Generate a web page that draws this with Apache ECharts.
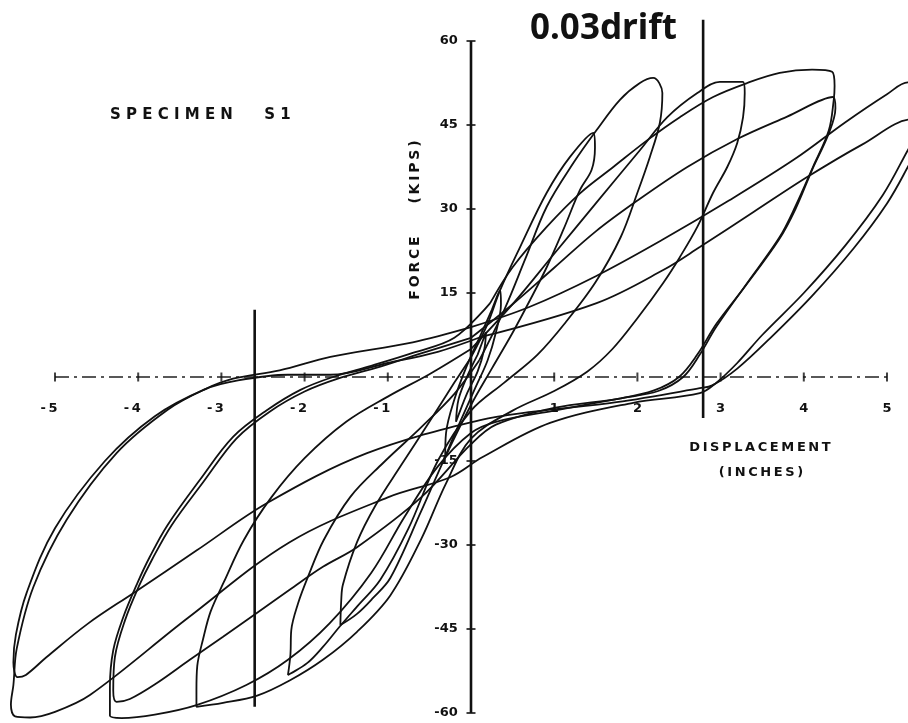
<!DOCTYPE html>
<html><head><meta charset="utf-8">
<script src="https://cdn.jsdelivr.net/npm/echarts@6/dist/echarts.min.js"></script>
<style>html,body{margin:0;padding:0;background:#fff}#c{width:908px;height:723px}</style>
</head><body><div id="c"></div>
<script>
// axis ranges and tick values
const xRange = [-5, 5];
const yRange = [-60, 60];
const xTicks = [-5,-4,-3,-2,-1,1,2,3,4,5];
const yTicks = [-60,-45,-30,-15,15,30,45,60];
// drift marker lines (displacement, force range)
const driftLeft = [[-2.6,12],[-2.6,-58.9]];
const driftRight = [[2.79,63.8],[2.79,-7.3]];
// hysteresis loops: [displacement (in), force (kips)]
const loopS1 = [[-0.31,-14.3],[-0.3,-10],[-0.2,-4],[-0.05,2],[0.1,7],[0.25,12],[0.35,15.5],[0.36,13],[0.3,8],[0.2,3],[0.05,-2],[-0.1,-7],[-0.22,-11],[-0.31,-14.3]];
const loopS2 = [[-0.18,-8],[-0.15,-4],[-0.05,0],[0.08,4],[0.18,8],[0.16,5],[0.08,1],[-0.05,-3],[-0.18,-8]];
const loopA = [[-1.57,-44.3],[-1.56,-40],[-1.54,-37.1],[-1.37,-29.5],[-1.15,-23],[-0.85,-16],[-0.5,-8],[-0.2,-1],[0,3.5],[0.2,9.5],[0.35,15.5],[0.59,23.2],[0.91,32.9],[1.19,39.3],[1.47,43.6],[1.49,41],[1.45,37],[1.31,33.4],[1.11,26.3],[0.91,19.6],[0.71,13.75],[0.5,7.9],[0.25,1.5],[0,-5],[-0.3,-14],[-0.6,-24],[-0.97,-35.9],[-1.18,-39.5],[-1.37,-42.3],[-1.57,-44.3]];
const loopB = [[-2.2,-53.2],[-2.17,-49.5],[-2.16,-45.2],[-2.08,-40.5],[-1.96,-35.7],[-1.77,-29.1],[-1.45,-21.4],[-1.06,-15.4],[-0.6,-9],[-0.2,-3],[0.1,3],[0.4,12],[0.65,21],[0.91,30.4],[1.23,38.2],[1.51,44.1],[1.79,49.5],[2.03,52.5],[2.19,53.4],[2.3,50.7],[2.27,45.4],[2.15,39.3],[2.0,32.9],[1.8,25],[1.5,17],[1.15,10],[0.8,4],[0.4,-1],[0,-6],[-0.4,-15],[-0.75,-27],[-1.09,-36.2],[-1.37,-41],[-1.58,-44.6],[-1.78,-48.2],[-1.97,-51.1],[-2.2,-53.2]];
const loopC = [[-3.3,-58.9],[-3.3,-55.9],[-3.29,-51.6],[-3.22,-46.8],[-3.13,-41.9],[-2.97,-36.6],[-2.73,-29.1],[-2.4,-21.5],[-2.0,-14.5],[-1.5,-8],[-1.0,-3.5],[-0.5,0.5],[0,5],[0.5,13],[1.0,22],[1.5,31],[2.03,40.5],[2.36,46.4],[2.72,50.7],[2.99,52.7],[3.27,52.7],[3.29,50.7],[3.27,46.4],[3.2,41.8],[3.08,37.5],[2.91,32.9],[2.72,26.8],[2.51,21.4],[2.31,16.8],[2.0,10.5],[1.7,5],[1.4,1],[1.0,-2.5],[0.5,-6],[0,-11],[-0.3,-19],[-0.6,-29],[-0.97,-39],[-1.37,-45.5],[-1.78,-50.5],[-2.18,-54.2],[-2.57,-56.9],[-2.98,-58.2],[-3.3,-58.9]];
const loopD1 = [[-4.34,-60.5],[-4.34,-55.4],[-4.3,-48.8],[-4.18,-42.9],[-4.01,-36.8],[-3.86,-32.1],[-3.65,-26.5],[-3.26,-18.4],[-2.86,-10.7],[-2.45,-5.9],[-2.05,-2.3],[-1.66,0],[-1.2,2],[-0.7,4.3],[-0.2,7],[0.23,13.2],[0.5,19.6],[0.91,26.8],[1.31,32.8],[1.71,37.5],[2.12,42.3],[2.51,46.4],[2.91,50],[3.32,52.5],[3.71,54.3],[4.1,54.9],[4.34,54.5],[4.37,52],[4.36,49.5],[4.3,44],[4.11,37.5],[3.9,30.5],[3.71,25],[3.32,16.8],[2.95,9],[2.75,4],[2.55,0],[2.25,-2.5],[1.8,-3.8],[1.0,-6],[0.3,-8],[0,-10],[-0.4,-16],[-0.8,-25],[-1.2,-35],[-1.7,-44],[-2.2,-50.5],[-2.7,-55],[-3.3,-58.6],[-3.8,-60.3],[-4.2,-60.9],[-4.34,-60.5]];
const loopD2 = [[-4.26,-58],[-4.3,-56],[-4.28,-50],[-4.16,-43.5],[-3.99,-37.3],[-3.83,-32.5],[-3.6,-26.5],[-3.22,-18.8],[-2.82,-11],[-2.42,-6.2],[-2.0,-2.6],[-1.6,-0.3],[-1.1,1.8],[-0.6,4.2],[0,7],[0.5,13],[1.0,19.5],[1.5,26],[2.0,31.5],[2.6,37.5],[3.2,42.5],[3.8,46.5],[4.35,50],[4.38,48],[4.3,43.5],[4.1,37],[3.9,30],[3.7,24.5],[3.3,16.3],[2.95,9.5],[2.72,4],[2.5,0],[2.2,-2.4],[1.8,-3.8],[1.0,-5.5],[0.3,-8.5],[0,-12],[-0.6,-21.5],[-1.37,-30.4],[-1.78,-33.9],[-2.18,-38],[-2.57,-42.1],[-2.98,-46.4],[-3.38,-50.5],[-3.77,-54.6],[-4.1,-57.5],[-4.26,-58]];
const loopE1 = [[-5.53,-58.5],[-5.5,-55],[-5.46,-48.5],[-5.26,-37.5],[-4.86,-25.5],[-4.26,-13.6],[-3.65,-5.9],[-3.2,-2.2],[-2.86,-0.3],[-2.3,1.2],[-1.69,3.6],[-0.7,6.2],[0,8.9],[0.7,12.5],[1.5,18],[2.3,24.5],[3.1,31.5],[3.9,39],[4.5,45.5],[5.0,50.5],[5.25,52.6],[5.42,51],[5.45,48],[5.38,44],[5.25,40.5],[4.95,32.5],[4.5,23.5],[4.0,15],[3.5,7.5],[3.2,2.5],[2.95,-1],[2.75,-2.9],[1.95,-4.6],[0.95,-8.2],[0.14,-14.3],[-0.25,-17.9],[-1.0,-21.5],[-2.18,-29.5],[-3.4,-43],[-4.58,-56.8],[-5.0,-59.8],[-5.3,-60.8],[-5.48,-60.6],[-5.53,-58.5]];
const loopE2 = [[-5.45,-53.6],[-5.5,-51],[-5.47,-46],[-5.34,-38.5],[-5.0,-27],[-4.4,-15],[-3.8,-7],[-3.2,-2.2],[-2.8,-0.6],[-2.2,0.4],[-1.69,0.4],[-1.0,2.5],[-0.4,4.5],[0.11,7.1],[1.51,13.2],[2.31,19.1],[2.75,23.2],[3.4,29.5],[4.04,35.7],[4.7,41.5],[5.3,46],[5.4,44],[5.35,40.5],[5.25,37.5],[5.0,31],[4.6,23],[4.1,14.5],[3.6,7],[3.2,1.5],[2.9,-1.5],[2.75,-2],[1.75,-4.5],[0.75,-6.2],[0.11,-7.7],[-1.25,-13.6],[-2.45,-22.5],[-3.3,-31],[-4.06,-38.6],[-4.6,-44],[-5.1,-50],[-5.35,-53.2],[-5.45,-53.6]];

const loops = [loopS1, loopS2, loopA, loopB, loopC, loopD1, loopD2, loopE1, loopE2];

// each loop is closed (first point == last point); start drawing where the upper branch
// crosses zero displacement so that the smoothed path has no seam at a tip
function fromMidBranch(d) {
  const open = d.slice(0, d.length - 1);
  let k = open.findIndex(p => p[0] >= 0);
  if (k < 0) k = 0;
  return open.slice(k).concat(open.slice(0, k + 1));
}

const FONT = 'DejaVu Sans';
const chart = echarts.init(document.getElementById('c'), null, {renderer: 'canvas'});

const loopSeries = loops.map(d => ({
  type: 'line', data: fromMidBranch(d), smooth: 0.35, showSymbol: false, silent: true,
  lineStyle: {color: '#111', width: 1.8}, z: 3
}));

const driftSeries = [driftLeft, driftRight].map(d => ({
  type: 'line', data: d, showSymbol: false, silent: true,
  lineStyle: {color: '#111', width: 2.6}, z: 4
}));

const axisSeries = [
  {type: 'line', data: [[xRange[0], 0], [xRange[1], 0]], showSymbol: false, silent: true,
   lineStyle: {color: '#222', width: 1.3, type: [14, 5, 3, 5]}, z: 2},
  {type: 'line', data: [[0, yRange[0]], [0, yRange[1]]], showSymbol: false, silent: true,
   lineStyle: {color: '#111', width: 2.6}, z: 4}
];

const tickSeries = [
  {type: 'scatter', data: xTicks.map(v => [v, 0]), symbol: 'rect', symbolSize: [2, 9],
   itemStyle: {color: '#111'}, silent: true, z: 5},
  {type: 'scatter', data: yTicks.map(v => [0, v]), symbol: 'rect', symbolSize: [9, 2],
   itemStyle: {color: '#111'}, silent: true, z: 5}
];

// the axes span one extra interval on each side so the outermost loop tips are not clipped;
// -5..5 maps to x 55..887 px and -60..60 to y 713..41 px
chart.setOption({
  animation: false,
  backgroundColor: '#fff',
  grid: {left: -28.2, right: -62.2, top: -43, bottom: -74, containLabel: false, outerBoundsMode: 'none'},
  xAxis: {
    type: 'value', min: -6, max: 6, interval: 1,
    axisLine: {show: false},
    axisTick: {show: false},
    splitLine: {show: false},
    axisLabel: {
      margin: -395, color: '#111', fontFamily: FONT, fontWeight: 'bold', fontSize: 13,
      formatter: v => (v === 0 || Math.abs(v) > 5) ? '' : (v < 0 ? '{n|-\u2009' + Math.abs(v) + '}' : String(v)),
      rich: {n: {padding: [0, 12, 0, 0], color: '#111', fontFamily: FONT, fontWeight: 'bold', fontSize: 13}}
    }
  },
  yAxis: {
    type: 'value', min: -75, max: 75, interval: 15,
    axisLine: {show: false},
    axisTick: {show: false},
    splitLine: {show: false},
    axisLabel: {
      margin: -486, color: '#111', fontFamily: FONT, fontWeight: 'bold', fontSize: 13,
      formatter: v => (v === 0 || Math.abs(v) > 60) ? '' : String(v)
    }
  },
  graphic: [
    {type: 'text', left: 530, top: 12, style: {text: '0.03drift', font: 'bold 35px "Noto Sans"', fill: '#111'}},
    {type: 'text', left: 110, top: 108, style: {text: 'S P E C I M E N      S 1', font: 'bold 15px "DejaVu Sans"', fill: '#111'}},
    {type: 'text', x: 415, y: 268, rotation: Math.PI / 2, style: {text: 'F\u2009O\u2009R\u2009C\u2009E', font: 'bold 14px "DejaVu Sans"', fill: '#111', align: 'center', verticalAlign: 'middle'}},
    {type: 'text', x: 415, y: 172, rotation: Math.PI / 2, style: {text: '(\u2009K\u2009I\u2009P\u2009S\u2009)', font: 'bold 14px "DejaVu Sans"', fill: '#111', align: 'center', verticalAlign: 'middle'}},
    {type: 'text', x: 760, y: 448, style: {text: 'D\u2009I\u2009S\u2009P\u2009L\u2009A\u2009C\u2009E\u2009M\u2009E\u2009N\u2009T', font: 'bold 13px "DejaVu Sans"', fill: '#111', align: 'center', verticalAlign: 'middle'}},
    {type: 'text', x: 761, y: 473, style: {text: '(\u2009I\u2009N\u2009C\u2009H\u2009E\u2009S\u2009)', font: 'bold 13px "DejaVu Sans"', fill: '#111', align: 'center', verticalAlign: 'middle'}}
  ],
  series: [...loopSeries, ...driftSeries, ...axisSeries, ...tickSeries]
});
</script>
</body></html>
